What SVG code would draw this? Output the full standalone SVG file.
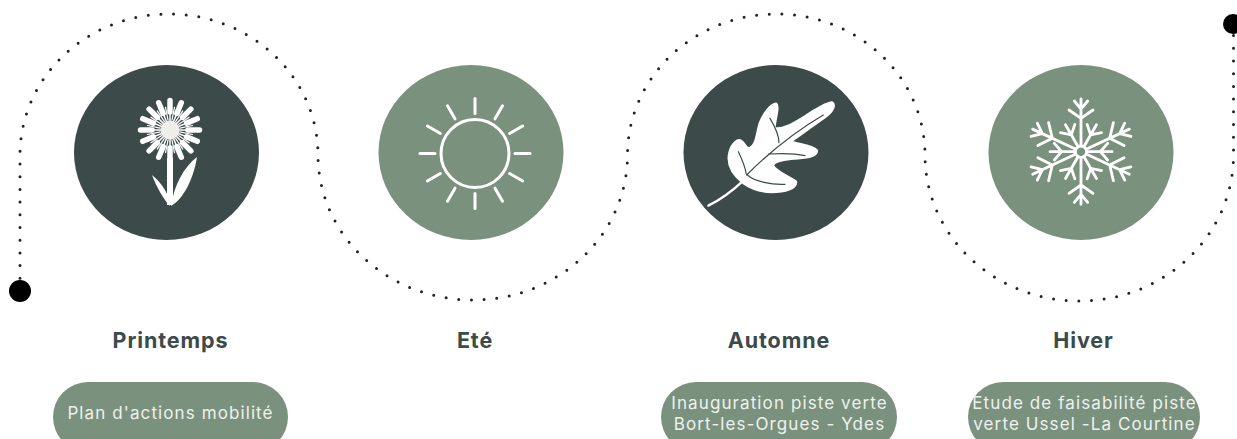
<svg xmlns="http://www.w3.org/2000/svg" width="1237" height="439" viewBox="0 0 1237 439">
<style>
.dark{fill:#3d4a4a}.green{fill:#7a917d}
.h{font-family:"Inter","Liberation Sans",sans-serif;font-weight:700;font-size:21.5px;fill:#3d4a4a;text-anchor:middle;letter-spacing:.9px}
.t{font-family:"Inter","Liberation Sans",sans-serif;font-size:17px;fill:#eef2ee;text-anchor:middle;letter-spacing:1.1px}
.ic{stroke:#fff;fill:none;stroke-linecap:round;stroke-linejoin:round}
</style>
<defs>
<g id="arm"><path d="M0-17V-158M0-100L-36-125M0-100L36-125M0-128L-20-152M0-128L20-152"/></g>
<g id="darm"><path d="M0-17V-160M0-95L-38-125M0-95L38-125M0-128L-22-155M0-128L22-155"/></g>
<g id="sarm"><path d="M0-17V-93M0-58L-25-80M0-58L25-80"/></g>
<path id="ray" d="M0-40V-55"/>
<g id="petal"><path d="M0-18V-29.500" stroke-width="5.500"/><path d="M0-9V-18" stroke-width="1.500"/><path d="M0-10V-23" stroke-width="1.200" transform="rotate(11.250)"/></g>
</defs>
<g id="connectors">
<path d="M20 291V155A149 141 0 0 1 318 155A154.750 145 0 0 0 627.500 155A148.750 141 0 0 1 925 155A154.250 146 0 0 0 1233.500 155V35" fill="none" stroke="#222" stroke-width="3" stroke-linecap="round" stroke-dasharray="0 12.700"/>
<circle cx="20" cy="291" r="11" fill="#000"/>
<circle cx="1233" cy="24" r="10" fill="#000"/>
</g>
<g id="printemps">
<ellipse class="dark" cx="166.500" cy="152.500" rx="92.500" ry="87.500"/>
<g class="ic" transform="translate(170 130)">
<use href="#petal" transform="rotate(0)"/><use href="#petal" transform="rotate(22.500)"/><use href="#petal" transform="rotate(45)"/><use href="#petal" transform="rotate(67.500)"/><use href="#petal" transform="rotate(90)"/><use href="#petal" transform="rotate(112.500)"/><use href="#petal" transform="rotate(135)"/><use href="#petal" transform="rotate(157.500)"/><use href="#petal" transform="rotate(180)"/><use href="#petal" transform="rotate(202.500)"/><use href="#petal" transform="rotate(225)"/><use href="#petal" transform="rotate(247.500)"/><use href="#petal" transform="rotate(270)"/><use href="#petal" transform="rotate(292.500)"/><use href="#petal" transform="rotate(315)"/><use href="#petal" transform="rotate(337.500)"/>
</g>
<circle cx="170" cy="130" r="9.500" fill="#eeeeea"/>
<rect x="167" y="158" width="6" height="47" fill="#fff"/>
<path d="M152 175C156 186 164 200 170 206C170 196 163 184 152 175ZM197 157C184 167 174 185 171 206C185 198 194 176 197 157Z" fill="#fff"/>
</g>
<g id="ete">
<ellipse class="green" cx="471" cy="152.500" rx="92.500" ry="87.500"/>
<g class="ic" transform="translate(475 153.500)" stroke-width="3">
<circle r="34"/>
<use href="#ray"/><use href="#ray" transform="rotate(30)"/><use href="#ray" transform="rotate(60)"/><use href="#ray" transform="rotate(90)"/><use href="#ray" transform="rotate(120)"/><use href="#ray" transform="rotate(150)"/><use href="#ray" transform="rotate(180)"/><use href="#ray" transform="rotate(210)"/><use href="#ray" transform="rotate(240)"/><use href="#ray" transform="rotate(270)"/><use href="#ray" transform="rotate(300)"/><use href="#ray" transform="rotate(330)"/>
</g>
</g>
<g id="automne">
<ellipse class="dark" cx="776" cy="152.500" rx="92.500" ry="87.500"/>
<g transform="translate(675 60) scale(.3333)">
<path d="M100 437C135 420 170 395 205 362" fill="none" stroke="#fff" stroke-width="7" stroke-linecap="round"/>
<path d="M205 368C170 340 155 310 165 275C172 250 190 235 200 245C212 255 212 270 225 265C245 255 245 225 255 190C265 165 285 135 303 132C312 140 300 175 297 205C320 212 350 195 390 170C420 150 450 130 470 128C482 135 472 155 450 170C420 190 390 215 345 245C370 255 410 255 425 272C425 290 390 292 355 295C330 298 300 300 292 315C300 335 340 350 362 365C365 385 330 395 290 395C255 395 230 385 205 368Z" fill="#fff" stroke="#fff" stroke-width="9" stroke-linejoin="round"/>
<path d="M215 345C280 280 360 215 445 165M280 282C320 280 360 280 390 287M217 345C240 365 290 375 330 373M214 342C210 320 200 295 190 275M312 248C312 225 300 200 285 175" fill="none" stroke="#3d4a4a" stroke-width="3.500" stroke-linecap="round"/>
</g>
</g>
<g id="hiver">
<ellipse class="green" cx="1081" cy="152.500" rx="92.500" ry="87.500"/>
<g class="ic" transform="translate(980 60) scale(.3333) translate(303 275)" stroke-width="8.500">
<circle r="17"/>
<use href="#arm"/><use href="#darm" transform="rotate(65)"/><use href="#darm" transform="rotate(115)"/><use href="#arm" transform="rotate(180)"/><use href="#darm" transform="rotate(245)"/><use href="#darm" transform="rotate(295)"/>
<use href="#sarm" transform="rotate(30)"/><use href="#sarm" transform="rotate(90)"/><use href="#sarm" transform="rotate(150)"/><use href="#sarm" transform="rotate(210)"/><use href="#sarm" transform="rotate(270)"/><use href="#sarm" transform="rotate(330)"/>
</g>
</g>
<g id="label-printemps"><text class="h" x="170.500" y="348">Printemps</text></g>
<g id="label-ete"><text class="h" x="475" y="348">Eté</text></g>
<g id="label-automne"><text class="h" x="779" y="348">Automne</text></g>
<g id="label-hiver"><text class="h" x="1083.500" y="348">Hiver</text></g>
<g id="pill-printemps">
<rect class="green" x="53" y="382" width="235" height="70" rx="35"/>
<text class="t" x="170.500" y="419">Plan d'actions mobilité</text>
</g>
<g id="pill-automne">
<rect class="green" x="661" y="382" width="236" height="70" rx="35"/>
<text class="t" x="779.500" y="409">Inauguration piste verte</text>
<text class="t" x="779.500" y="430">Bort-les-Orgues - Ydes</text>
</g>
<g id="pill-hiver">
<rect class="green" x="968" y="382" width="232" height="70" rx="35"/>
<text class="t" x="1084.500" y="409">Etude de faisabilité piste</text>
<text class="t" x="1084.500" y="430">verte Ussel -La Courtine</text>
</g>
</svg>
